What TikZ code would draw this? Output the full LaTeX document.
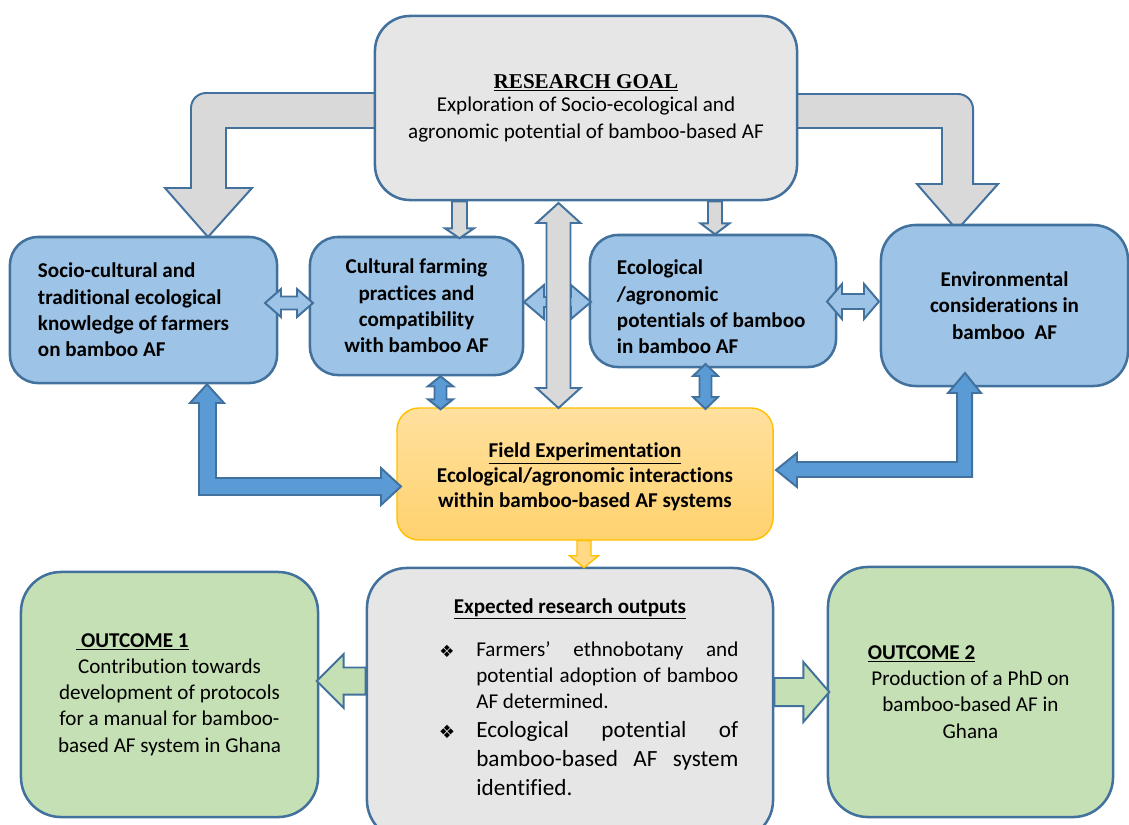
\documentclass[tikz,border=0pt]{standalone}
\usepackage{fontspec}
\setmainfont{Carlito}[Ligatures=NoCommon]
\newfontfamily\timesfont{Liberation Serif}
\newfontfamily\symbfont{DejaVu Sans}
\usetikzlibrary{calc}
\definecolor{edgeblue}{HTML}{41719C}
\definecolor{boxblue}{HTML}{9DC3E6}
\definecolor{goalgray}{HTML}{E6E6E6}
\definecolor{arrowgray}{HTML}{D9D9D9}
\definecolor{arrowblue}{HTML}{5B9BD5}
\definecolor{fieldtop}{HTML}{FFE09E}
\definecolor{fieldbottom}{HTML}{FFD26F}
\definecolor{fieldedge}{HTML}{FFC000}
\definecolor{outgreen}{HTML}{C5E0B4}
% block arrows: #1 start, #2 length, #3 shaft half, #4 head half, #5 head length, #6 style
\newcommand{\vtwoway}[6]{%
  \draw[#6] #1 -- ++({#4},{#5}) -- ++({(#3)-(#4)},0) -- ++(0,{(#2)-2*(#5)})
    -- ++({(#4)-(#3)},0) -- ++({-(#4)},{#5}) -- ++({-(#4)},{-(#5)})
    -- ++({(#4)-(#3)},0) -- ++(0,{2*(#5)-(#2)}) -- ++({(#3)-(#4)},0) -- cycle;}
\newcommand{\htwoway}[6]{%
  \draw[#6] #1 -- ++({#5},{-(#4)}) -- ++(0,{(#4)-(#3)}) -- ++({(#2)-2*(#5)},0)
    -- ++(0,{(#3)-(#4)}) -- ++({#5},{#4}) -- ++({-(#5)},{#4})
    -- ++(0,{(#3)-(#4)}) -- ++({2*(#5)-(#2)},0) -- ++(0,{(#4)-(#3)}) -- cycle;}
\newcommand{\downblock}[6]{%
  \draw[#6] #1 -- ++({#3},0) -- ++(0,{(#2)-(#5)}) -- ++({(#4)-(#3)},0) -- ++({-(#4)},{#5})
    -- ++({-(#4)},{-(#5)}) -- ++({(#4)-(#3)},0) -- ++(0,{(#5)-(#2)}) -- cycle;}
\newcommand{\sideblock}[6]{%
  \draw[#6] #1 -- ++(0,{-(#3)}) -- ++({(#2)-(#5)},0) -- ++(0,{(#3)-(#4)}) -- ++({#5},{#4})
    -- ++({-(#5)},{#4}) -- ++(0,{(#3)-(#4)}) -- ++({(#5)-(#2)},0) -- cycle;}
\begin{document}
\begin{tikzpicture}
[x=0.025cm, y=-0.025cm,
  boxdecorate/.style={draw=edgeblue, line width=1.8pt, inner sep=0pt, align=center,
    font=\fontsize{15}{18.7}\selectfont},
  bluedecorate/.style={boxdecorate, fill=boxblue, rounded corners=0.7cm,
    font=\fontsize{15}{18.7}\selectfont\bfseries},
  graydecorate/.style={boxdecorate, fill=goalgray},
  greendecorate/.style={boxdecorate, fill=outgreen, rounded corners=1cm},
  fielddecorate/.style={boxdecorate, draw=fieldedge, line width=1pt, rounded corners=0.55cm,
    top color=fieldtop, bottom color=fieldbottom,
    font=\fontsize{15}{17.8}\selectfont\bfseries},
  grayarrow/.style={fill=arrowgray, draw=edgeblue, line width=1.4pt},
  bluearrow/.style={fill=arrowblue, draw=edgeblue, line width=1.4pt},
  lightarrow/.style={fill=boxblue, draw=edgeblue, line width=1.4pt},
  yellowarrow/.style={fill=fieldbottom!85!white, draw=fieldedge, line width=1pt},
  greenarrow/.style={fill=outgreen, draw=edgeblue, line width=1.4pt}]
\useasboundingbox (0,0) rectangle (1129,824);
\clip (0,0) rectangle (1129,824);
%% big bent arrows behind the goal
\draw[grayarrow] (375,93) -- (206,93) arc[start angle=-90, end angle=-180, radius=15]
  -- (191,188) -- (165,188) -- (208,237) -- (252,188) -- (226,188) -- (226,128)
  -- (375,128) -- cycle;
\draw[grayarrow] (797,94) -- (958,94) arc[start angle=-90, end angle=0, radius=15]
  -- (973,184) -- (998,184) -- (957,230) -- (917,184) -- (942,184) -- (942,128)
  -- (797,128) -- cycle;
%% nodes or boxes
\node (goal) at (586,108) [graydecorate, rounded corners=0.875cm,
  minimum width=10.55cm, minimum height=4.6cm, font=\fontsize{15}{19.2}\selectfont]
  {{\timesfont\bfseries\underline{RESEARCH GOAL}}\\[-2.8pt]
   Exploration of Socio-ecological and\\ agronomic potential of bamboo-based AF};
\node (soc) at (143.5,310) [bluedecorate, minimum width=6.675cm, minimum height=3.65cm,
  text width=5.275cm, align=flush left]
  {Socio-cultural and\\ traditional ecological\\ knowledge of farmers\\ on bamboo AF};
\node (cult) at (416.5,306) [bluedecorate, minimum width=5.325cm, minimum height=3.45cm]
  {Cultural farming\\ practices and\\ compatibility\\ with bamboo AF};
\node (eco) at (713,301) [bluedecorate, minimum width=6.15cm, minimum height=3.3cm,
  text width=4.8cm, align=flush left]
  {\rule{0pt}{19pt}Ecological\\ /agronomic\\ \mbox{potentials of bamboo}\\ in bamboo AF};
\node (env) at (1004.5,305.5) [bluedecorate, rounded corners=0.875cm,
  minimum width=6.175cm, minimum height=4.025cm]
  {Environmental\\ considerations in\\ bamboo~~AF};
\node (field) at (585,474) [fielddecorate, minimum width=9.4cm, minimum height=3.3cm]
  {\rule{0pt}{15pt}\underline{Field Experimentation}\\ Ecological/agronomic interactions\\
   within bamboo-based AF systems};
\node (outputs) at (570,704) [graydecorate, rounded corners=1cm,
  minimum width=10.15cm, minimum height=6.8cm] {};
\node (outhead) at (570,609) [font=\fontsize{15}{18.7}\selectfont\bfseries]
  {\underline{Expected research outputs}};
\node (mark1) at (447,651) [font=\symbfont\fontsize{12}{12}\selectfont] {❖};
\node (mark2) at (447,732) [font=\symbfont\fontsize{13}{13}\selectfont] {❖};
\node (item1) at (476,641) [anchor=north west, inner sep=0pt, text width=6.55cm,
  align=justify, font=\fontsize{15}{18.5}\selectfont]
  {Farmers’ ethnobotany and\linebreak potential adoption of bamboo\linebreak AF determined.};
\node (item2) at (476,721) [anchor=north west, inner sep=0pt, text width=6.55cm,
  align=justify, font=\fontsize{16.5}{20.6}\selectfont]
  {Ecological potential of\linebreak bamboo-based AF system\linebreak identified.};
\node (out1) at (169.5,694.5) [greendecorate, minimum width=7.425cm, minimum height=6.125cm,
  font=\fontsize{15}{18.6}\selectfont]
  {\underline{\textbf{\ OUTCOME 1}}\hspace*{1.85cm}\\ Contribution towards\\
   development of protocols\\ for a manual for bamboo-\\ based AF system in Ghana};
\node (out2) at (970.5,692) [greendecorate, minimum width=7.125cm, minimum height=6.25cm,
  font=\fontsize{15}{18.6}\selectfont]
  {\underline{\textbf{OUTCOME 2}}\hspace*{2.45cm}\\ Production of a PhD on\\
   bamboo-based AF in\\ Ghana};
%% edges or block arrows
\foreach \tipx/\tipy/\len/\shaft/\head/\hlen in {265/303/48/6.5/14/16,
  524/302/67/5/17/20, 827/301.5/52/7.5/17.5/15}
{
  \htwoway{(\tipx,\tipy)}{\len}{\shaft}{\head}{\hlen}{lightarrow}
}
\vtwoway{(558.5,203)}{205}{12}{22}{20}{grayarrow}
\vtwoway{(cult.south -| 440.5,0)}{33}{6}{12.5}{10}{bluearrow}
\vtwoway{(705.5,364)}{45}{6}{12.5}{12}{bluearrow}
\downblock{(goal.south -| 459.5,0)}{37}{7.5}{14.5}{10}{grayarrow}
\downblock{(goal.south -| 715,0)}{33}{7}{14.5}{11}{grayarrow}
\downblock{(field.south -| 584,0)}{27}{7}{14.5}{12}{yellowarrow}
\draw[bluearrow] (soc.south -| 207,0) -- (224,403) -- (216,403) -- (216,478) -- (381,478)
  -- (381,468) -- (401,486.5) -- (381,505) -- (381,495) -- (199,495) -- (199,403)
  -- (190,403) -- cycle;
\draw[bluearrow] (965,373) -- (981,393) -- (972,393) -- (972,477) -- (797,477)
  -- (797,487) -- (776,470) -- (797,453) -- (797,462) -- (957,462) -- (957,393)
  -- (948,393) -- cycle;
\sideblock{(outputs.west |- 0,681)}{-49}{13.5}{27}{-27}{greenarrow}
\sideblock{(outputs.east |- 0,692)}{55}{14}{30}{26}{greenarrow}
\end{tikzpicture}
\end{document}
